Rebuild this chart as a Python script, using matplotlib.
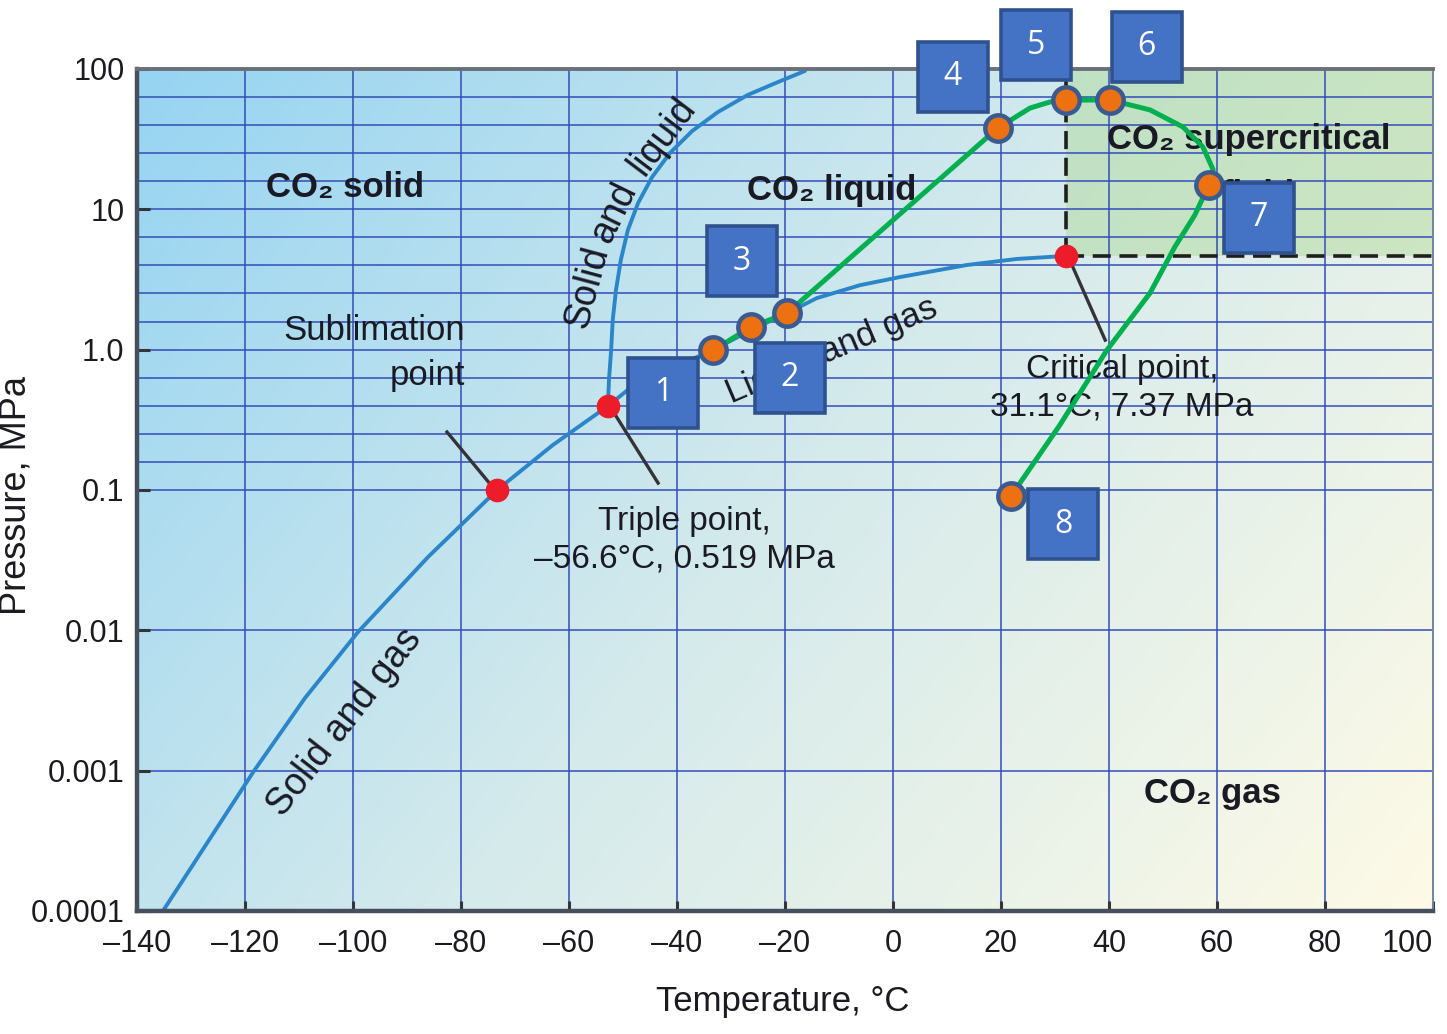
import numpy as np
import matplotlib
matplotlib.use("Agg")
import matplotlib.pyplot as plt
from matplotlib.ticker import FixedLocator, NullFormatter

FONT = ["Liberation Sans", "DejaVu Sans"]
plt.rcParams["font.family"] = FONT

# ---------------- data ----------------
x_ticks = [-140, -120, -100, -80, -60, -40, -20, 0, 20, 40, 60, 80, 100]
x_ticklabels = ["\u2013140", "\u2013120", "\u2013100", "\u201380", "\u201360", "\u201340",
                "\u201320", "0", "20", "40", "60", "80", "100"]
y_ticks = [0.0001, 0.001, 0.01, 0.1, 1.0, 10, 100]
y_ticklabels = ["0.0001", "0.001", "0.01", "0.1", "1.0", "10", "100"]

# sublimation curve (solid and gas)
sub_T = [-135.2, -118.5, -108.9, -99.1, -86.1, -73.3, -63.0, -52.8]
sub_P = [1e-4, 9.75e-4, 3.29e-3, 9.7e-3, 0.0333, 0.1, 0.209, 0.396]
# melting curve (solid and liquid)
melt_T = [-52.8, -52.6, -52.2, -51.9, -51.3, -50.4, -49.1, -47.2, -44.6, -41.3, -37.2,
          -32.4, -26.9, -21.3, -16.3]
melt_P = [0.396, 0.607, 0.993, 1.63, 2.66, 4.36, 7.12, 11.1, 17.0, 25.2, 36.1,
          49.4, 65.3, 80.7, 96.8]
# vaporisation curve (liquid and gas)
vap_T = [-52.8, -48.7, -43.1, -37.6, -33.3, -26.3, -19.6, -14.1, -6.1, 1.3, 13.7, 23.0, 32.0]
vap_P = [0.396, 0.532, 0.692, 0.843, 0.993, 1.38, 1.82, 2.33, 2.88, 3.29, 4.01, 4.43, 4.65]

# special points
sublimation_pt = (-73.3, 0.1)
triple_pt = (-52.8, 0.396)
critical_pt = (32.0, 4.65)

# green process path
path_T = [-33.3, -26.3, -19.6, 19.4, 25.4, 29.1, 32.0, 40.2, 47.6, 53.7, 57.4, 59.3,
          58.5, 55.9, 52.2, 47.6, 39.6, 30.9, 21.9]
path_P = [0.99, 1.45, 1.82, 37.9, 52.7, 58.2, 60.1, 60.1, 51.1, 38.6, 27.8, 19.1,
          14.9, 9.1, 5.4, 2.53, 0.99, 0.29, 0.091]

# numbered states on the path
state_labels = ["1", "2", "3", "4", "5", "6", "7", "8"]
state_T = [-33.3, -26.3, -19.6, 19.4, 32.0, 40.2, 58.5, 21.9]
state_P = [0.99, 1.45, 1.82, 37.9, 60.1, 60.1, 14.9, 0.091]

# ---------------- layout ----------------
box_T = [-42.6, -19.1, -28.0, 11.1, 26.5, 47.0, 67.8, 31.5]
box_P = [0.491, 0.628, 4.28, 87.7, 148, 143.5, 8.67, 0.057]

fig = plt.figure(figsize=(14.47, 10.34), dpi=100)
ax = fig.add_axes([0.0947, 0.119, 0.8956, 0.8143])
ax.set_yscale("log")
ax.set_xlim(-140, 100)
ax.set_ylim(1e-4, 100)

# background gradient
H, W = 300, 400
U, V = np.meshgrid(np.linspace(0, 1, W), np.linspace(1, 0, H))
d = np.clip(0.65 * U + 0.35 * (1 - V), 0, 1)[..., None]
c0 = np.array([150, 212, 242]) / 255
cm = np.array([212, 234, 236]) / 255
c1 = np.array([254, 250, 230]) / 255
img = np.where(d < 0.5, c0 + (cm - c0) * (d / 0.5), cm + (c1 - cm) * ((d - 0.5) / 0.5))
ax.imshow(img, extent=[0, 1, 0, 1], transform=ax.transAxes, aspect="auto",
          zorder=0, interpolation="bilinear")

# supercritical region
ax.fill_between([critical_pt[0], 100], [critical_pt[1]] * 2, [100, 100],
                color=(0.64, 0.83, 0.52), alpha=0.38, lw=0, zorder=0.5)

# grid
grid_c = (0.2, 0.3, 0.72)
for t in x_ticks[1:-1]:
    ax.axvline(t, color=grid_c, lw=1.1, zorder=1)
minor_y = [10 ** (k / 5) for k in range(-5, 10) if k % 5 != 0]
for p in y_ticks[1:-1] + minor_y:
    ax.axhline(p, color=grid_c, lw=1.1, zorder=1)

# dashed boundaries of supercritical region
dash_c = (0.12, 0.12, 0.12)
ax.plot([critical_pt[0], critical_pt[0]], [critical_pt[1], 100], color=dash_c,
        lw=2.6, dashes=(5, 2.4), zorder=2)
ax.plot([critical_pt[0], 100], [critical_pt[1], critical_pt[1]], color=dash_c,
        lw=2.6, dashes=(5, 2.4), zorder=2)

# phase boundaries
blue = "#2a86c8"
for T, P in ((sub_T, sub_P), (melt_T, melt_P), (vap_T, vap_P)):
    ax.plot(T, P, color=blue, lw=2.8, solid_capstyle="round", solid_joinstyle="round", zorder=3)

# leader lines
lead_c = (0.2, 0.2, 0.22)
ax.plot([-82.6, -74.6], [10 ** -0.587, 10 ** -0.958], color=lead_c, lw=2.4, zorder=3)
ax.plot([-52.0, -43.5], [10 ** -0.430, 10 ** -0.951], color=lead_c, lw=2.4, zorder=3)
ax.plot([33.3, 39.3], [10 ** 0.589, 10 ** 0.068], color=lead_c, lw=2.4, zorder=3)

# special red points
for (t, p) in (sublimation_pt, triple_pt, critical_pt):
    ax.plot(t, p, "o", ms=16, mfc="#ec1c2a", mec="#ec1c2a", zorder=5)

# text labels
tc = (0.1, 0.1, 0.14)
RL = 25
ax.text(-101.5, 14.2, "CO\u2082 solid", fontsize=RL, fontweight="bold", ha="center",
        va="center", color=tc, zorder=4)
ax.text(-11.3, 13.7, "CO\u2082 liquid", fontsize=RL, fontweight="bold", ha="center",
        va="center", color=tc, zorder=4)
ax.text(39.6, 31.2, "CO\u2082 supercritical", fontsize=RL, fontweight="bold", ha="left",
        va="center", color=tc, zorder=4)
ax.text(67.6, 12.6, "fluid", fontsize=RL, fontweight="bold", ha="center",
        va="center", color=tc, zorder=4)
ax.text(59.1, 10 ** -3.16, "CO\u2082 gas", fontsize=RL, fontweight="bold", ha="center",
        va="center", color=tc, zorder=4)
ax.text(-79.3, 10 ** -0.024, "Sublimation\npoint", fontsize=25, ha="right", va="center",
        color=tc, linespacing=1.45, multialignment="right", zorder=4)
ax.text(-38.7, 10 ** -1.357, "Triple point,\n\u201356.6\u00b0C, 0.519 MPa", fontsize=24,
        ha="center", va="center", color=tc, linespacing=1.25, zorder=4)
ax.text(42.4, 10 ** -0.274, "Critical point,\n31.1\u00b0C, 7.37 MPa", fontsize=24,
        ha="center", va="center", color=tc, linespacing=1.25, zorder=4)
# "Solid and liquid" follows the curved melting line: one word at a time
for word, wt, wlp, rot in (("Solid", -56.6, 0.446, 75), ("and", -51.6, 0.975, 64),
                           ("liquid", -42.8, 1.52, 53)):
    ax.text(wt, 10 ** wlp, word, fontsize=27, rotation=rot, ha="center", va="center",
            color=tc, rotation_mode="anchor", zorder=4)
ax.text(-11.3, 10 ** -0.01, "Liquid and gas", fontsize=25, rotation=23, ha="center",
        va="center", color=tc, rotation_mode="anchor", zorder=4)
ax.text(-101.5, 10 ** -2.654, "Solid and gas", fontsize=27, rotation=52, ha="center",
        va="center", color=tc, rotation_mode="anchor", zorder=4)

# green process path and states
ax.plot(path_T, path_P, color="#00b050", lw=3.6, solid_joinstyle="round",
        solid_capstyle="round", zorder=5)
ax.plot(state_T, state_P, "o", ms=19, mfc="#ed7110", mec="#3a5a92", mew=3.2,
        zorder=6, clip_on=False)
for lab, bt, bp in zip(state_labels, box_T, box_P):
    ax.plot(bt, bp, "s", ms=51, mfc="#4472c4", mec="#2f528f", mew=2.6, zorder=7, clip_on=False)
    ax.text(bt, bp, lab, fontsize=23, color="white", ha="center", va="center",
            family=["Open Sans", "DejaVu Sans"], zorder=8, clip_on=False)

# axes styling
ax.set_xticks(x_ticks)
ax.set_xticklabels(x_ticklabels)
ax.set_yticks(y_ticks)
ax.set_yticklabels(y_ticklabels)
ax.yaxis.set_minor_locator(FixedLocator([]))
ax.yaxis.set_minor_formatter(NullFormatter())
ax.tick_params(axis="both", which="major", direction="in", labelsize=22, colors=(0.2, 0.2, 0.22),
               labelcolor=(0.1, 0.1, 0.13))
ax.tick_params(axis="y", length=9, width=2.2, pad=9)
ax.tick_params(axis="x", length=7, width=2.2, pad=13)
ax.get_xticklabels()[-1].set_horizontalalignment("right")
ax.set_xlabel("Temperature, \u00b0C", fontsize=25, color=(0.1, 0.1, 0.13))
ax.set_ylabel("Pressure, MPa", fontsize=26, color=(0.1, 0.1, 0.13))
ax.xaxis.set_label_coords(0.498, -0.088)
ax.yaxis.set_label_coords(-0.080, 0.494)

ax.spines["left"].set_linewidth(3.2)
ax.spines["left"].set_color((0.27, 0.31, 0.37))
ax.spines["bottom"].set_linewidth(3.2)
ax.spines["bottom"].set_color((0.27, 0.31, 0.37))
ax.spines["top"].set_linewidth(2.8)
ax.spines["top"].set_color((0.42, 0.44, 0.47))
ax.spines["right"].set_linewidth(1.4)
ax.spines["right"].set_color((0.45, 0.52, 0.62))
for s in ax.spines.values():
    s.set_zorder(4.5)

fig.savefig("out.png", dpi=100)
